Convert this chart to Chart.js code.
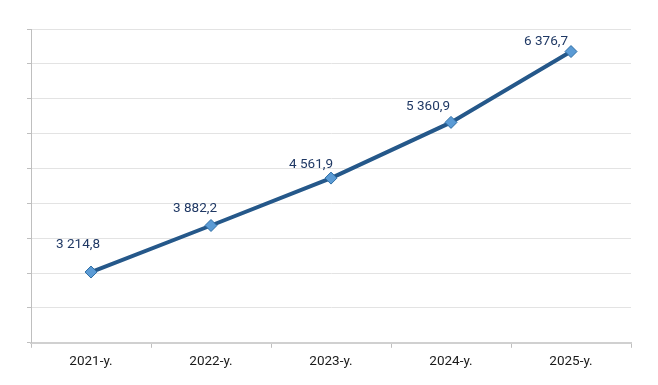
<!DOCTYPE html>
<html>
<head>
<meta charset="utf-8">
<script src="https://cdn.jsdelivr.net/npm/chart.js@4/dist/chart.umd.min.js"></script>
<style>
  html, body { margin: 0; padding: 0; background: #ffffff; }
  #wrap { width: 658px; height: 385px; position: relative; }
</style>
</head>
<body>
<div id="wrap"><canvas id="c"></canvas></div>
<script>
const categories = ["2021-y.", "2022-y.", "2023-y.", "2024-y.", "2025-y."];
const values = [3214.8, 3882.2, 4561.9, 5360.9, 6376.7];
const valueLabels = ["3 214,8", "3 882,2", "4 561,9", "5 360,9", "6 376,7"];
const yMin = 2200;
const yMax = 6700;
const yStep = 500;

const labelOffsets = [[-13, -27], [-16, -17], [-20, -13], [-23, -16], [-25, -10]];

const dataLabelPlugin = {
  id: 'dataLabels',
  afterDatasetsDraw(chart) {
    const ctx = chart.ctx;
    const meta = chart.getDatasetMeta(0);
    ctx.save();
    ctx.font = '13.5px Roboto, "Liberation Sans", sans-serif';
    ctx.fillStyle = '#1F3864';
    ctx.textAlign = 'center';
    ctx.textBaseline = 'middle';
    meta.data.forEach((pt, i) => {
      const off = labelOffsets[i] || [0, -15];
      ctx.fillText(valueLabels[i], pt.x + off[0], pt.y + off[1]);
    });
    ctx.restore();
  }
};

new Chart(document.getElementById('c'), {
  type: 'line',
  data: {
    labels: categories,
    datasets: [{
      data: values,
      borderColor: '#25588A',
      borderWidth: 4,
      tension: 0,
      pointStyle: 'rectRot',
      pointRadius: 6,
      pointHoverRadius: 6,
      pointBackgroundColor: '#5B9BD5',
      pointBorderColor: '#2E6DA4',
      pointBorderWidth: 1,
      fill: false
    }]
  },
  options: {
    responsive: true,
    maintainAspectRatio: false,
    animation: false,
    layout: { padding: { left: 27, right: 27, top: 29, bottom: 9 } },
    plugins: {
      legend: { display: false },
      tooltip: { enabled: false }
    },
    scales: {
      x: {
        offset: true,
        grid: {
          display: true,
          drawOnChartArea: false,
          offset: true,
          tickLength: 5,
          color: '#bfbfbf'
        },
        border: { display: true, color: '#d0d0d0', width: 2 },
        ticks: {
          color: '#1a1a1a',
          font: { family: 'Roboto, "Liberation Sans", sans-serif', size: 13.5 },
          padding: 6,
          maxRotation: 0
        }
      },
      y: {
        min: yMin,
        max: yMax,
        grid: {
          display: true,
          color: '#e3e3e3',
          tickLength: 4,
          tickColor: '#bfbfbf'
        },
        border: { display: true, color: '#bfbfbf', width: 1 },
        ticks: {
          display: false,
          stepSize: yStep
        }
      }
    }
  },
  plugins: [dataLabelPlugin]
});
</script>
</body>
</html>
